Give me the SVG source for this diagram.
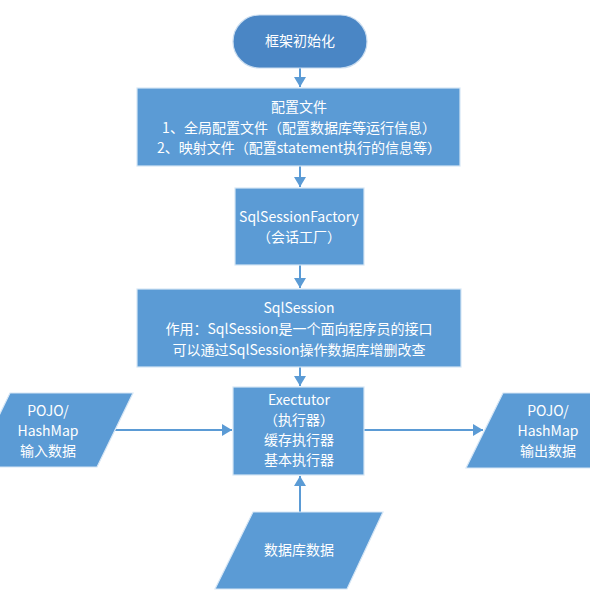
<svg xmlns="http://www.w3.org/2000/svg" width="590" height="591" viewBox="0 0 590 591">
<style>
.box{fill:#5B9BD5;stroke:#d6e6f5;stroke-width:1.2}
.term{fill:#4A86C5;stroke:#c9dcef;stroke-width:1.2}
.t{font-family:"Microsoft YaHei","Noto Sans CJK SC","Noto Sans",sans-serif;font-size:14px;fill:#ffffff;text-anchor:middle}
.c{stroke:#5B9BD5;stroke-width:2;fill:none;marker-end:url(#ah)}
</style>
<defs>
<marker id="ah" markerWidth="12" markerHeight="12" refX="10" refY="6" orient="auto" markerUnits="userSpaceOnUse">
<path d="M0,0 L10,6 L0,12 Z" fill="#5B9BD5"/>
</marker>
</defs>
<rect width="590" height="591" fill="#ffffff"/>
<g id="connectors">
<line class="c" x1="300" y1="68" x2="300" y2="87"/>
<line class="c" x1="300" y1="166" x2="300" y2="187"/>
<line class="c" x1="300" y1="265" x2="300" y2="288"/>
<line class="c" x1="300" y1="367" x2="300" y2="386"/>
<line class="c" x1="115" y1="430" x2="232" y2="430"/>
<line class="c" x1="364" y1="430" x2="483" y2="430"/>
<line class="c" x1="300" y1="512" x2="300" y2="476"/>
</g>
<g id="start">
<rect class="term" x="233" y="15" width="134" height="53" rx="26.5" ry="26.5"/>
<text class="t" x="300" y="46">框架初始化</text>
</g>
<g id="config">
<rect class="box" x="137" y="88" width="323" height="78"/>
<text class="t" x="299" y="112">配置文件</text>
<text class="t" x="299" y="133">1、全局配置文件（配置数据库等运行信息）</text>
<text class="t" x="299" y="153">2、映射文件（配置statement执行的信息等）</text>
</g>
<g id="factory">
<rect class="box" x="235" y="188" width="129" height="77"/>
<text class="t" x="299" y="222">SqlSessionFactory</text>
<text class="t" x="299" y="242">（会话工厂）</text>
</g>
<g id="session">
<rect class="box" x="137" y="289" width="324" height="78"/>
<text class="t" x="299" y="313">SqlSession</text>
<text class="t" x="299" y="334">作用：SqlSession是一个面向程序员的接口</text>
<text class="t" x="299" y="355">可以通过SqlSession操作数据库增删改查</text>
</g>
<g id="executor">
<rect class="box" x="233" y="387" width="131" height="88"/>
<text class="t" x="299" y="405">Exectutor</text>
<text class="t" x="299" y="425">（执行器）</text>
<text class="t" x="299" y="445">缓存执行器</text>
<text class="t" x="299" y="465">基本执行器</text>
</g>
<g id="input">
<polygon class="box" points="10,393 133,393 97,467 -26,467"/>
<text class="t" x="48" y="416">POJO/</text>
<text class="t" x="48" y="436">HashMap</text>
<text class="t" x="48" y="456">输入数据</text>
</g>
<g id="output">
<polygon class="box" points="503,393 628,393 591,468 466,468"/>
<text class="t" x="548" y="416">POJO/</text>
<text class="t" x="548" y="436">HashMap</text>
<text class="t" x="548" y="456">输出数据</text>
</g>
<g id="db">
<polygon class="box" points="253,512 383,512 347,589 215,589"/>
<text class="t" x="299" y="555">数据库数据</text>
</g>
</svg>
